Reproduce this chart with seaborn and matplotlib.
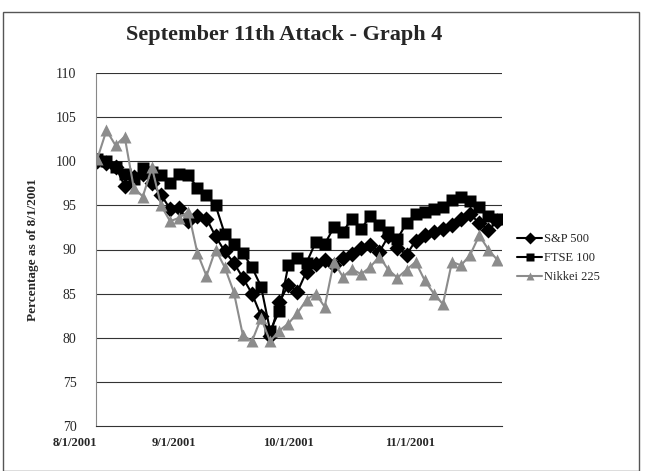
import pandas as pd
import matplotlib.pyplot as plt
import seaborn as sns
from matplotlib.patches import Rectangle

# trading-day position (0 = 8/1/2001), every second session
day = list(range(0, 90, 2))

sp500 = [100.0, 99.8, 99.4, 97.2, 98.2, 98.6, 97.5, 96.2, 94.6, 94.7,
         93.2, 93.8, 93.5, 91.5, 89.8, 88.5, 86.8, 85.0, 82.5, 80.2,
         84.0, 86.0, 85.2, 87.5, 88.4, 88.8, 88.2, 89.0, 89.5, 90.2,
         90.5, 89.7, 91.5, 90.2, 89.4, 91.0, 91.6, 92.0, 92.3, 92.8,
         93.5, 94.0, 93.0, 92.2, 93.2]

ftse100 = [100.2, 100.0, 99.3, 98.6, 98.0, 99.2, 98.8, 98.4, 97.5, 98.5,
           98.4, 97.0, 96.2, 95.0, 91.8, 90.6, 89.6, 88.0, 85.8, 80.8,
           83.0, 88.2, 89.0, 88.5, 90.8, 90.6, 92.5, 92.0, 93.5, 92.3,
           93.8, 92.8, 92.0, 91.2, 93.0, 94.0, 94.3, 94.6, 94.8, 95.6,
           96.0, 95.5, 94.8, 93.8, 93.5]

nikkei225 = [100.3, 103.5, 101.8, 102.8, 97.0, 96.0, 99.3, 95.0, 93.2, 93.6,
             94.3, 89.6, 87.0, 90.0, 88.0, 85.2, 80.3, 79.6, 82.2, 79.6,
             80.8, 81.6, 82.8, 84.3, 85.0, 83.5, 88.6, 86.9, 87.8, 87.2,
             88.0, 89.2, 87.7, 86.8, 87.7, 88.6, 86.5, 85.0, 83.8, 88.6,
             88.2, 89.4, 91.6, 90.0, 88.8]

names = ["S&P 500", "FTSE 100", "Nikkei 225"]
tick_pos = [0, 21.7, 47.6, 74.3]
tick_labels = ["8/1/2001", "9/1/2001", "10/1/2001", "11/1/2001"]

df = pd.DataFrame({
    "day": day * 3,
    "pct": sp500 + ftse100 + nikkei225,
    "index": [names[0]] * len(day) + [names[1]] * len(day) + [names[2]] * len(day),
})

sns.set_style("white")
plt.rcParams["font.family"] = ["Liberation Serif", "DejaVu Serif"]

fig = plt.figure(figsize=(6.46, 4.71), dpi=100)
ax = fig.add_axes([96 / 646, 1 - 426 / 471, 406 / 646, 353 / 471])

sns.lineplot(data=df, x="day", y="pct", hue="index", style="index",
             palette={"S&P 500": "black", "FTSE 100": "black", "Nikkei 225": "#8c8c8c"},
             markers={"S&P 500": "D", "FTSE 100": "s", "Nikkei 225": "^"},
             dashes=False, linewidth=1.5, markersize=8, markeredgecolor="none",
             ax=ax, legend=True)

ax.set_ylim(70, 110)
ax.set_xlim(-0.3, 89)
ax.set_yticks(range(70, 111, 5))
ax.tick_params(axis="y", length=0, pad=14, labelsize=10)
ax.set_xticks(tick_pos)
ax.set_xticklabels(tick_labels, fontweight="bold", fontsize=9, ha="right")
ax.tick_params(axis="x", length=0, pad=8)
for y in range(75, 111, 5):
    ax.axhline(y, color="#333333", linewidth=0.8, zorder=0)

for s in ["top", "right"]:
    ax.spines[s].set_visible(False)
ax.spines["left"].set_color("#888888")
ax.spines["left"].set_linestyle((0, (2, 1)))
ax.spines["left"].set_linewidth(0.8)
ax.spines["bottom"].set_color("#333333")
ax.spines["bottom"].set_linewidth(0.8)

ax.set_xlabel("")
ax.set_ylabel("Percentage as of 8/1/2001", fontweight="bold", fontsize=9.5, labelpad=12)

leg = ax.legend(loc="center left", bbox_to_anchor=(1.01, 0.475), frameon=False,
                fontsize=9, handlelength=2.0, handletextpad=0.1, labelspacing=0.55)
for h in leg.legend_handles:
    h.set_markersize(6)

fig.text(284 / 646, 1 - 35 / 471, "September 11th Attack - Graph 4",
         ha="center", va="center", fontsize=16, fontweight="bold")

fig.patches.append(Rectangle((3 / 646, 0), 636 / 646, 1 - 12 / 471,
                             transform=fig.transFigure, fill=False,
                             edgecolor="#555555", linewidth=1))

fig.savefig("out.png", dpi=100)
